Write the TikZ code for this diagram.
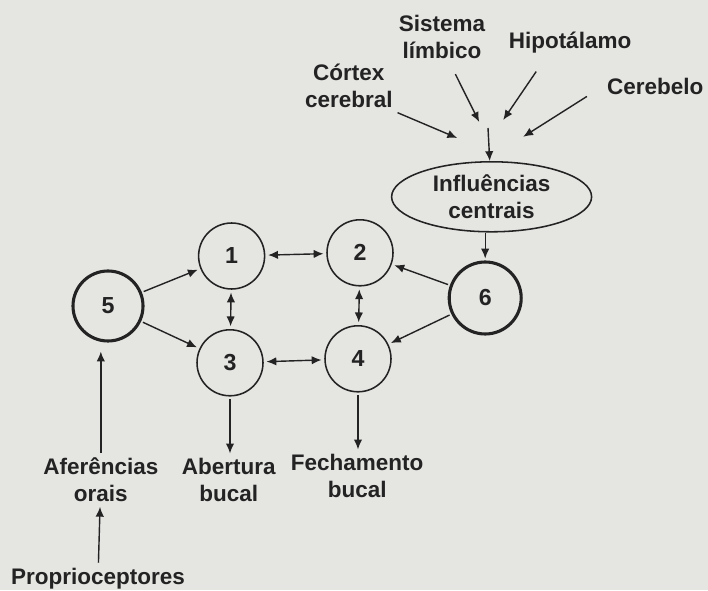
\documentclass[tikz,border=0pt]{standalone}
\usepackage{fontspec}
\setmainfont{Liberation Sans}
\usepackage{xcolor}
\usetikzlibrary{arrows.meta,shapes.geometric}
\definecolor{papel}{RGB}{229,229,226}
\definecolor{tinta}{RGB}{35,35,35}
\tikzset{
	estado/.style={draw=tinta, circle, line width=1.1pt, minimum size=1.65cm, inner sep=0pt, outer sep=2.5pt, text=tinta, font=\fontsize{16.5}{19}\selectfont\bfseries},
	estadoforte/.style={estado, line width=2.2pt, minimum size=1.75cm},
	rotulo/.style={align=center, text=tinta, font=\fontsize{16}{19}\selectfont\bfseries},
	seta/.style={-{Latex[length=7pt,width=6pt]}, draw=tinta, line width=1pt},
	dupla/.style={{Latex[length=7pt,width=6pt]}-{Latex[length=7pt,width=6pt]}, draw=tinta, line width=1pt}
}

\begin{document}
\begin{tikzpicture}
	\fill[papel] (0,0) rectangle (17.7,14.75);
	\useasboundingbox (0,0) rectangle (17.7,14.75);
	\node[estado] (n1) at (5.79,8.35) {1};
	\node[estado] (n2) at (9.0,8.43) {2};
	\node[estado] (n3) at (5.75,5.68) {3};
	\node[estado] (n4) at (8.95,5.78) {4};
	\node[estadoforte] (n5) at (2.7,7.1) {5};
	\node[estadoforte, minimum size=1.8cm] (n6) at (12.13,7.3) {6};
	\node[draw=tinta, ellipse, line width=1.1pt, minimum width=5cm, minimum height=1.75cm, inner sep=0pt, rotulo] (infl) at (12.29,9.83) {Influências\\centrais};
	\node[rotulo] (cortex) at (8.72,12.6) {Córtex\\cerebral};
	\node[rotulo] (limbico) at (11.05,13.83) {Sistema\\límbico};
	\node[rotulo] (hipo) at (14.25,13.68) {Hipotálamo};
	\node[rotulo] (cereb) at (16.38,12.58) {Cerebelo};
	\node[rotulo] (aferencias) at (2.52,2.75) {Aferências\\orais};
	\node[rotulo] (abertura) at (5.72,2.75) {Abertura\\bucal};
	\node[rotulo] (fechamento) at (8.93,2.85) {Fechamento\\bucal};
	\node[rotulo, anchor=base] (proprio) at (2.45,0.15) {Proprioceptores};
	\coordinate (ic) at (12.2,11.55);
	\coordinate (icA) at (11.43,11.3);
	\coordinate (icB) at (11.98,11.7);
	\coordinate (icC) at (12.58,11.75);
	\coordinate (icD) at (13.08,11.33);
	\draw[seta] (cortex.south east) -- (icA);
	\draw[seta, shorten <=0.3cm] ([xshift=0.2cm]limbico.south) -- (icB);
	\draw[seta, shorten <=0.4cm] ([xshift=-0.62cm]hipo.south) -- (icC);
	\draw[seta, shorten <=0.45cm] (cereb.west) -- (icD);
	\draw[seta] (ic) -- (infl);
	\draw[seta] (infl.south -| n6) -- (n6);
	\draw[seta] (n6) -- (n2);
	\draw[seta] (n6) -- (n4);
	\draw[seta] (n5) -- (n1);
	\draw[seta] (n5) -- (n3);
	\draw[dupla] (n1) -- (n2);
	\draw[dupla] (n1) -- (n3);
	\draw[dupla] (n2) -- (n4);
	\draw[dupla] (n3) -- (n4);
	\draw[seta] (n3) -- (n3 |- abertura.north);
	\draw[seta] (n4) -- (n4 |- fechamento.north);
	\draw[seta, shorten >=5pt] (aferencias.north) -- (aferencias.north |- n5.south);
	\draw[seta] (proprio) -- (aferencias);
\end{tikzpicture}
\end{document}
